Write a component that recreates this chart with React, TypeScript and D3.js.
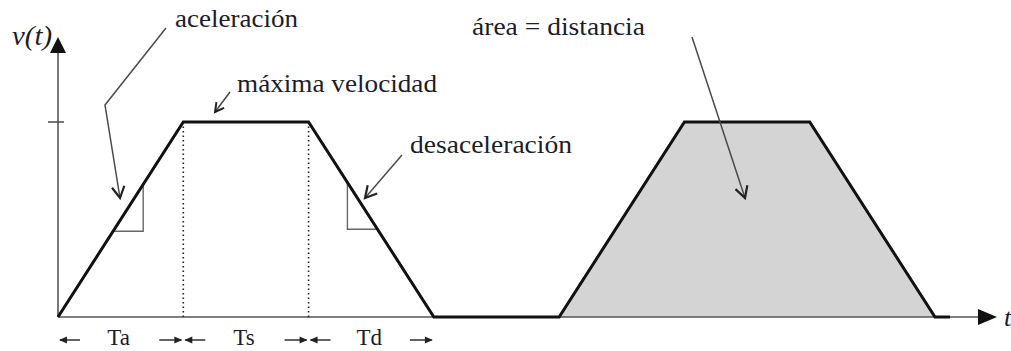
import React from "react";
import * as d3 from "d3";

// velocity profile: time units, normalized velocity
const profileTimes = [0, 1, 2, 3, 4, 5, 6, 7, 7.12];
const profileVel = [0, 1, 1, 0, 0, 1, 1, 0, 0];
const areaTimes = [4, 5, 6, 7];
const areaVel = [0, 1, 1, 0];
const phaseLabels = ["Ta", "Ts", "Td"];
const phaseBounds = [0, 1, 2, 3];
const slopeMarkers = [
  { t0: 0.44, t1: 0.68, kind: "up" },
  { t0: 2.31, t1: 2.55, kind: "down" },
];

const W = 1011;
const H = 351;
const x = d3.scaleLinear().domain([0, 7]).range([58, 935]);
const y = d3.scaleLinear().domain([0, 1]).range([317, 122]);

function openHead(tx: number, ty: number, fx: number, fy: number, len = 13, ang = 0.5) {
  const a = Math.atan2(fy - ty, fx - tx);
  const p1 = [tx + len * Math.cos(a + ang), ty + len * Math.sin(a + ang)];
  const p2 = [tx + len * Math.cos(a - ang), ty + len * Math.sin(a - ang)];
  return `M${p1[0]},${p1[1]}L${tx},${ty}L${p2[0]},${p2[1]}`;
}
function filledHead(tx: number, ty: number, dir: number, len: number, half: number) {
  const bx = tx - len * Math.cos(dir);
  const by = ty - len * Math.sin(dir);
  const nx = -Math.sin(dir) * half;
  const ny = Math.cos(dir) * half;
  return `M${tx},${ty}L${bx + nx},${by + ny}L${bx - nx},${by - ny}Z`;
}

const serif = "'Times New Roman', Times, 'Liberation Serif', 'Nimbus Roman', serif";
const txtColor = "#1c1c2a";
const leader = "#4a4a4a";

export default function App() {
  const line = d3.line<number>().x((_, i) => x(profileTimes[i])).y((_, i) => y(profileVel[i]));
  const areaGen = d3
    .area<number>()
    .x((_, i) => x(areaTimes[i]))
    .y0(y(0))
    .y1((_, i) => y(areaVel[i]));

  const y0 = y(0);
  const arrowY = 340;

  return (
    <svg width={W} height={H} style={{ position: "absolute", left: 0, top: 0, background: "#fff" }}>
      <path d={areaGen(areaTimes) || ""} fill="#d4d4d4" />
      {/* axes */}
      <line x1={x(0)} y1={y0} x2={980} y2={y0} stroke="#555" strokeWidth={1.6} />
      <path d={filledHead(997, y0, 0, 19, 8)} fill="#111" />
      <line x1={x(0)} y1={y0} x2={x(0)} y2={52} stroke="#555" strokeWidth={1.6} />
      <path d={filledHead(x(0), 37, -Math.PI / 2, 16, 8)} fill="#111" />
      <line x1={48} y1={y(1)} x2={64} y2={y(1)} stroke="#555" strokeWidth={1.6} />
      {/* dotted verticals */}
      {[1, 2].map((t) => (
        <line key={t} x1={x(t)} y1={y(1)} x2={x(t)} y2={y0} stroke="#222" strokeWidth={1.6} strokeDasharray="1.5,3" />
      ))}
      {/* slope markers */}
      {slopeMarkers.map((m, i) => {
        const vAt = (t: number) => (m.kind === "up" ? t : 3 - t);
        const path =
          m.kind === "up"
            ? `M${x(m.t1)},${y(vAt(m.t1))}L${x(m.t1)},${y(vAt(m.t0))}L${x(m.t0)},${y(vAt(m.t0))}`
            : `M${x(m.t0)},${y(vAt(m.t0))}L${x(m.t0)},${y(vAt(m.t1))}L${x(m.t1)},${y(vAt(m.t1))}`;
        return <path key={i} d={path} fill="none" stroke="#666" strokeWidth={1.4} />;
      })}
      {/* profile */}
      <path d={line(profileTimes) || ""} fill="none" stroke="#111" strokeWidth={3} strokeLinejoin="miter" />
      {/* annotation leaders */}
      <g fill="none" stroke={leader} strokeWidth={1.5}>
        <path d="M166,28L105,105L120,198" />
        <path d={openHead(120, 198, 105, 105)} stroke="#222" strokeWidth={2.2} />
        <path d="M230,92L215,112" />
        <path d={openHead(215, 112, 230, 92, 10)} stroke="#222" strokeWidth={2} />
        <path d="M402,155L365,198" />
        <path d={openHead(365, 198, 402, 155)} stroke="#222" strokeWidth={2.2} />
        <path d="M692,37L745,198" />
        <path d={openHead(745, 198, 692, 37)} stroke="#222" strokeWidth={2.2} />
      </g>
      {/* texts */}
      <g fontFamily={serif} fill={txtColor} fontSize={25}>
        <text x={175} y={27} textLength={123} lengthAdjust="spacingAndGlyphs">aceleración</text>
        <text x={237} y={92} textLength={200} lengthAdjust="spacingAndGlyphs">máxima velocidad</text>
        <text x={410} y={153} textLength={162} lengthAdjust="spacingAndGlyphs">desaceleración</text>
        <text x={472} y={35} textLength={173} lengthAdjust="spacingAndGlyphs">área = distancia</text>
        <text x={12} y={45} fontStyle="italic" fontSize={27} textLength={40} lengthAdjust="spacingAndGlyphs">v(t)</text>
        <text x={1004} y={326} fontStyle="italic" fontSize={26}>t</text>
        {phaseLabels.map((l, i) => (
          <text key={l} x={(x(phaseBounds[i]) + x(phaseBounds[i + 1])) / 2 - 2} y={345} fontSize={23} textAnchor="middle">
            {l}
          </text>
        ))}
      </g>
      {/* phase arrows */}
      <g stroke="#222" strokeWidth={1.4}>
        {phaseLabels.map((l, i) => {
          const a = x(phaseBounds[i]);
          const b = x(phaseBounds[i + 1]);
          return (
            <g key={l}>
              <line x1={a + 2} y1={arrowY} x2={a + 22} y2={arrowY} />
              <path d={filledHead(a + 1, arrowY, Math.PI, 8, 3.5)} fill="#222" stroke="none" />
              <line x1={b - 24} y1={arrowY} x2={b - 2} y2={arrowY} />
              <path d={filledHead(b - 1, arrowY, 0, 8, 3.5)} fill="#222" stroke="none" />
            </g>
          );
        })}
      </g>
    </svg>
  );
}
